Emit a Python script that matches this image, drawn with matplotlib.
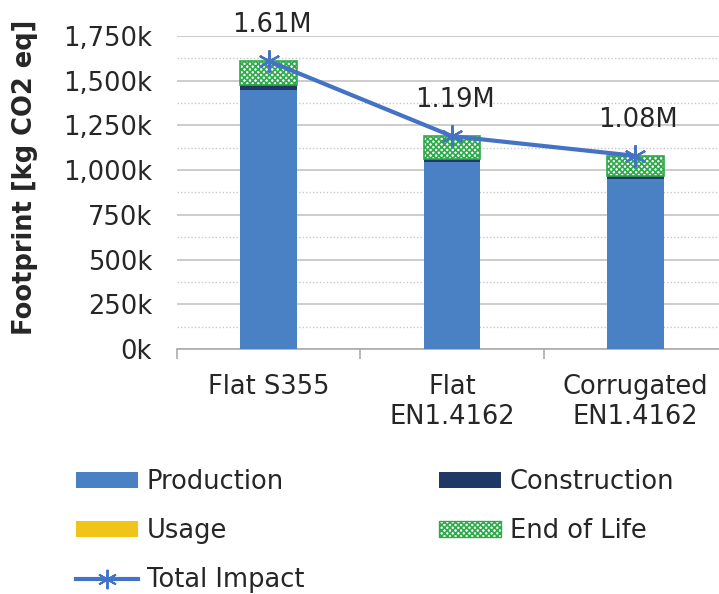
import matplotlib.pyplot as plt
import matplotlib.ticker as mticker
from matplotlib.lines import Line2D
from matplotlib.patches import Patch
import numpy as np

plt.rcParams['hatch.linewidth'] = 1.2

CATEGORIES = ['Flat S355', 'Flat\nEN1.4162', 'Corrugated\nEN1.4162']
PRODUCTION = [1450, 1045, 950]
CONSTRUCTION = [25, 20, 18]
USAGE = [0, 0, 0]
END_OF_LIFE = [135, 125, 112]
TOTAL = [1610, 1190, 1080]
TOTAL_LABELS = ['1.61M', '1.19M', '1.08M']

C_PROD = '#4A81C4'
C_CONS = '#1F3864'
C_USE = '#F0C419'
C_EOL = '#2EAA4A'
C_LINE = '#4472C4'
TXT = '#262626'
FS = 18.5


def chart():
  fig = plt.figure(figsize=(7.19, 5.94), dpi=100)
  ax = fig.add_axes([177 / 719, 1 - 349 / 594, 550 / 719, 313 / 594])

  x = np.arange(len(CATEGORIES))
  w = 0.31
  prod = np.array(PRODUCTION)
  cons = np.array(CONSTRUCTION)
  use = np.array(USAGE)
  eol = np.array(END_OF_LIFE)

  ax.bar(x, prod, w, color=C_PROD, zorder=3)
  ax.bar(x, cons, w, bottom=prod, color=C_CONS, zorder=3)
  ax.bar(x, use, w, bottom=prod + cons, color=C_USE, zorder=3)
  ax.bar(x, eol, w, bottom=prod + cons + use, facecolor='white',
         edgecolor=C_EOL, hatch='xxxxxx', linewidth=1.2, zorder=3)

  ax.plot(x, TOTAL, color=C_LINE, lw=3, marker=(6, 2, 0), ms=16,
          mew=1.6, mec=C_LINE, zorder=4)
  for xi, yi, lab in zip(x, TOTAL, TOTAL_LABELS):
    ax.annotate(lab, (xi, yi), xytext=(2, 21), textcoords='offset points',
                ha='center', va='baseline', fontsize=FS, color=TXT)

  ax.set_xlim(-0.5, 2.5)
  ax.set_ylim(0, 1750)
  ax.yaxis.set_major_locator(mticker.MultipleLocator(250))
  ax.yaxis.set_minor_locator(mticker.MultipleLocator(125))
  ax.yaxis.set_major_formatter(mticker.FuncFormatter(lambda v, p: f'{int(v):,}k'))
  ax.grid(axis='y', which='major', color='#BFBFBF', lw=1.1, zorder=0)
  ax.grid(axis='y', which='minor', color='#C8C8C8', lw=1.0, ls=(0, (1, 1.5)), zorder=0)

  ax.set_xticks(x)
  ax.set_xticklabels(CATEGORIES)
  ax.set_xticks([-0.5, 0.5, 1.5, 2.5], minor=True)
  ax.tick_params(axis='x', which='major', length=0, pad=18, labelsize=FS, labelcolor=TXT)
  ax.tick_params(axis='x', which='minor', length=7, width=1.1, color='#A6A6A6', direction='out')
  ax.tick_params(axis='y', which='both', length=0, pad=18, labelsize=FS, labelcolor=TXT)

  for s in ['top', 'right', 'left']:
    ax.spines[s].set_visible(False)
  ax.spines['bottom'].set_color('#A6A6A6')
  ax.spines['bottom'].set_linewidth(1.1)

  fig.text(25 / 719, 1 - 177 / 594, 'Footprint [kg CO2 eq]', rotation=90,
           ha='center', va='center', fontsize=FS, fontweight='bold', color=TXT)

  handles = [
    Patch(facecolor=C_PROD, label='Production'),
    Patch(facecolor=C_USE, label='Usage'),
    Line2D([], [], color=C_LINE, lw=3, marker=(6, 2, 0), ms=14, mew=1.4,
           label='Total Impact'),
    Patch(facecolor=C_CONS, label='Construction'),
    Patch(facecolor='white', edgecolor=C_EOL, hatch='xxxxxx', label='End of Life'),
  ]
  leg = fig.legend(handles=handles, ncol=2, loc='upper left',
                   bbox_to_anchor=(53 / 719, 1 - 446 / 594), frameon=False,
                   fontsize=FS, handlelength=2.4, handleheight=0.55,
                   handletextpad=0.35, columnspacing=5.25, labelspacing=0.9)
  for t in leg.get_texts():
    t.set_color(TXT)

  plt.savefig('out.png', dpi=100)


if __name__ == "__main__":
  chart()
